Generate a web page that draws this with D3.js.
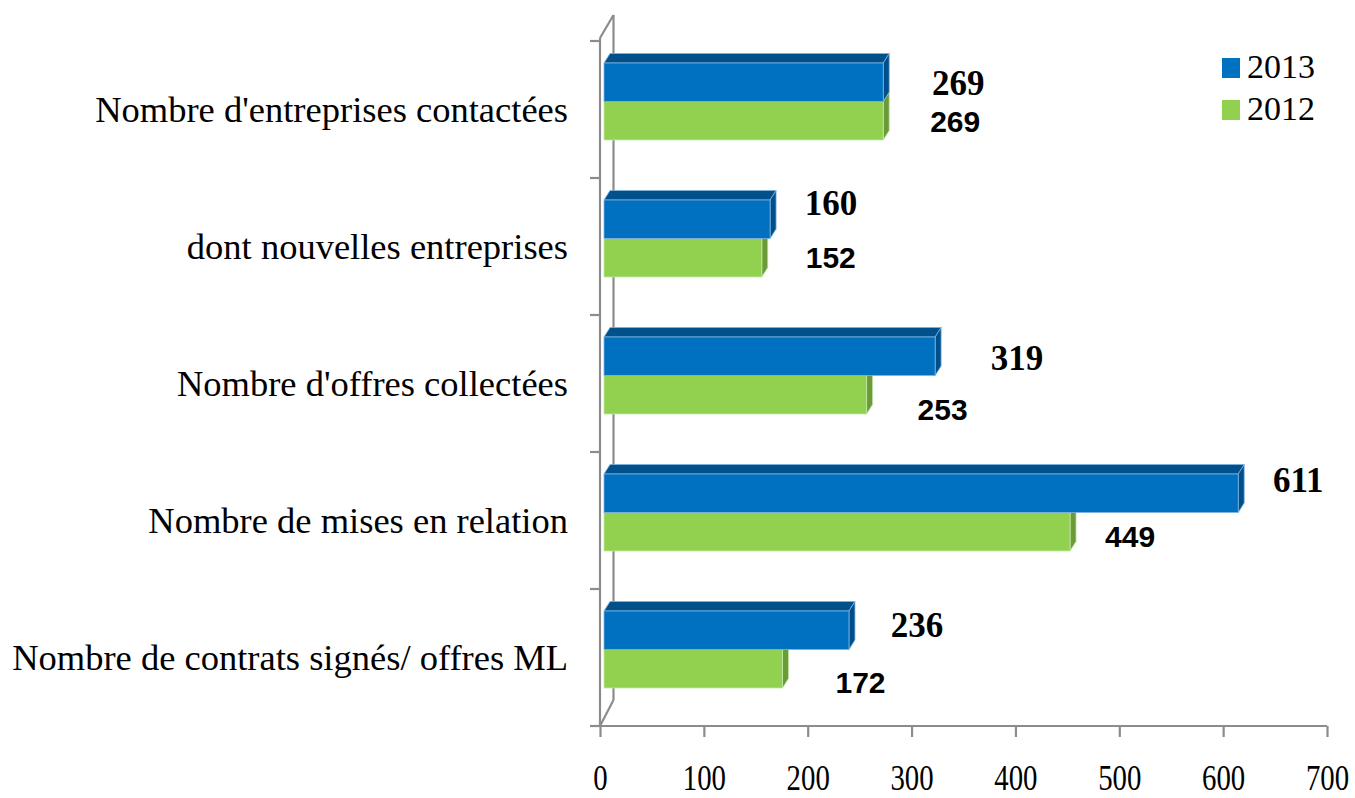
<!DOCTYPE html>
<html>
<head>
<meta charset="utf-8">
<script src="https://cdn.jsdelivr.net/npm/d3@7"></script>
<style>
  html, body { margin: 0; padding: 0; background: #fff; }
  svg { display: block; }
</style>
</head>
<body>
<svg id="chart" width="1355" height="798"></svg>
<script>
// ---- data ----
const categories = [
  "Nombre d'entreprises contactées",
  "dont nouvelles entreprises",
  "Nombre d'offres collectées",
  "Nombre de mises en relation",
  "Nombre de contrats signés/ offres ML"
];
const seriesNames = ["2013", "2012"];
const values2013 = [269, 160, 319, 611, 236];
const values2012 = [269, 152, 253, 449, 172];
const xTickValues = [0, 100, 200, 300, 400, 500, 600, 700];

// ---- layout (pixel nudges for hand-placed value labels) ----
const labelDx2013 = [75, 61, 82, 60, 68];
const labelDy2013 = [54, 37, 55, 40, 48];
const labelDx2012 = [72, 69, 76, 60, 78];
const labelDy2012 = [91, 90, 105, 95, 104];

const colors = {
  "2013": { front: "#0070C0", top: "#00508C", side: "#004E8A", edge: "#7FB2E0" },
  "2012": { front: "#92D050", top: "#74A83E", side: "#6B9A38", edge: "#C4E6A4" }
};
const axisColor = "#8C8C8C";
const depthX = 6, depthY = -9.5;

const svg = d3.select("#chart");

// scales
const x = d3.scaleLinear().domain([0, 700]).range([600, 1327]);
const xBar = d3.scaleLinear().domain([0, 700]).range([604, 604 + 726.6]);
const y = d3.scaleBand().domain(categories).range([41, 726]).padding(0);
const ySeries = d3.scaleBand().domain(seriesNames).range([22, 99]).padding(0);

// ---- walls / axis lines (3D frame) ----
const frame = svg.append("g").attr("stroke", axisColor).attr("stroke-width", 2.2).attr("fill", "none");
const yTop = y.range()[0], yBot = y.range()[1];
const backX = x(0) + 13.5;
frame.append("line").attr("x1", x(0)).attr("x2", x(0)).attr("y1", yTop - 3).attr("y2", yBot);
frame.append("line").attr("x1", backX).attr("x2", backX).attr("y1", yTop - 26).attr("y2", yBot - 26);
frame.append("line").attr("x1", x(0)).attr("y1", yTop - 3).attr("x2", backX).attr("y2", yTop - 26);
frame.append("line").attr("x1", x(0)).attr("y1", yBot).attr("x2", backX).attr("y2", yBot - 26);

// category ticks on left
const boundaries = categories.map(c => y(c)).concat([yBot]);
frame.selectAll("line.ctick").data(boundaries).enter().append("line")
  .attr("class", "ctick")
  .attr("x1", x(0) - 10).attr("x2", x(0))
  .attr("y1", d => d).attr("y2", d => d);

// x axis
const xAxis = d3.axisBottom(x).tickValues(xTickValues).tickSize(11).tickSizeOuter(0).tickFormat(d3.format("d"));
const gx = svg.append("g").attr("transform", `translate(0,${yBot})`).call(xAxis);
gx.select(".domain").attr("stroke", axisColor).attr("stroke-width", 2.2)
  .attr("d", `M${x(0) - 10},0H${x(700)}`);
gx.selectAll(".tick line").attr("stroke", axisColor).attr("stroke-width", 2.2);
gx.selectAll(".tick text")
  .attr("y", 64).attr("dy", 0)
  .attr("fill", "#000")
  .style("font-family", "'Liberation Serif', 'Times New Roman', serif")
  .style("font-size", "36px")
  .attr("transform", "scale(0.8,1)");

// ---- bars ----
function barPaths(g, x0, x1, top, h, col) {
  const dx = depthX, dy = depthY;
  g.append("path")
    .attr("d", `M${x0},${top}L${x0 + dx},${top + dy}L${x1 + dx},${top + dy}L${x1},${top}Z`)
    .attr("fill", col.top).attr("stroke", col.edge).attr("stroke-width", 0.8);
  g.append("path")
    .attr("d", `M${x1},${top}L${x1 + dx},${top + dy}L${x1 + dx},${top + h + dy}L${x1},${top + h}Z`)
    .attr("fill", col.side).attr("stroke", col.edge).attr("stroke-width", 0.8);
  g.append("rect")
    .attr("x", x0).attr("y", top).attr("width", x1 - x0).attr("height", h)
    .attr("fill", col.front).attr("stroke", col.edge).attr("stroke-width", 0.8);
}

const bars = svg.append("g");
categories.forEach((c, i) => {
  const g = bars.append("g");
  barPaths(g, xBar(0), xBar(values2012[i]), y(c) + ySeries("2012"), ySeries.bandwidth(), colors["2012"]);
  barPaths(g, xBar(0), xBar(values2013[i]), y(c) + ySeries("2013"), ySeries.bandwidth(), colors["2013"]);
});

// ---- value labels ----
svg.append("g").selectAll("text").data(categories).enter().append("text")
  .attr("x", (c, i) => xBar(values2013[i]) + labelDx2013[i])
  .attr("y", (c, i) => y(c) + labelDy2013[i])
  .attr("text-anchor", "middle")
  .style("font-family", "'Liberation Serif', 'Times New Roman', serif")
  .style("font-weight", "bold")
  .style("font-size", "35px")
  .attr("fill", "#000")
  .text((c, i) => values2013[i]);

svg.append("g").selectAll("text").data(categories).enter().append("text")
  .attr("x", (c, i) => xBar(values2012[i]) + labelDx2012[i])
  .attr("y", (c, i) => y(c) + labelDy2012[i])
  .attr("text-anchor", "middle")
  .style("font-family", "'Liberation Sans', Arial, sans-serif")
  .style("font-weight", "bold")
  .style("font-size", "30px")
  .attr("fill", "#000")
  .text((c, i) => values2012[i]);

// ---- category labels ----
svg.append("g").selectAll("text").data(categories).enter().append("text")
  .attr("x", 568)
  .attr("y", c => y(c) + y.bandwidth() / 2 + 12)
  .attr("text-anchor", "end")
  .style("font-family", "'Liberation Serif', 'Times New Roman', serif")
  .style("font-size", "36.5px")
  .attr("fill", "#000")
  .text(c => c);

// ---- legend ----
const legend = svg.append("g");
seriesNames.forEach((s, i) => {
  const ly = 58 + i * 42;
  legend.append("rect").attr("x", 1222).attr("y", ly).attr("width", 18).attr("height", 20)
    .attr("fill", colors[s].front);
  legend.append("text").attr("x", 1247).attr("y", ly + 20)
    .style("font-family", "'Liberation Serif', 'Times New Roman', serif")
    .style("font-size", "34px")
    .attr("fill", "#000")
    .text(s);
});
</script>
</body>
</html>
